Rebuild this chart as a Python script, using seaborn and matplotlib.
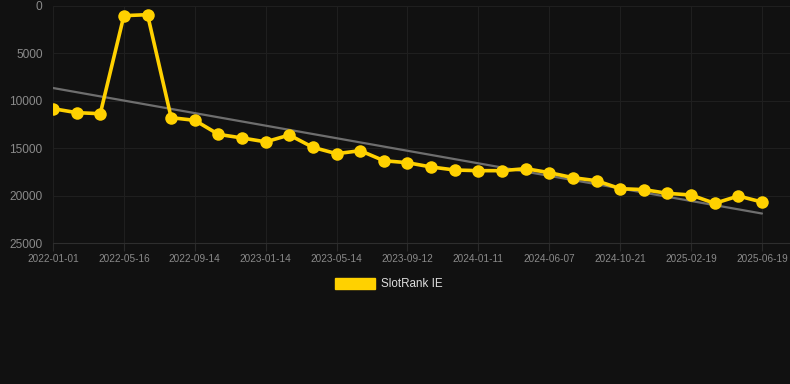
import matplotlib
matplotlib.use("Agg")
import matplotlib.pyplot as plt
import matplotlib.patches as mpatches
import seaborn as sns
import numpy as np
import pandas as pd

dates = [
    "2022-01-01", "2022-02-15", "2022-03-31", "2022-05-16", "2022-06-26", "2022-08-05",
    "2022-09-14", "2022-10-25", "2022-12-04", "2023-01-14", "2023-02-23", "2023-04-04",
    "2023-05-14", "2023-06-24", "2023-08-03", "2023-09-12", "2023-10-23", "2023-12-02",
    "2024-01-11", "2024-02-29", "2024-04-19", "2024-06-07", "2024-07-22", "2024-09-06",
    "2024-10-21", "2024-12-01", "2025-01-10", "2025-02-19", "2025-04-01", "2025-05-10",
    "2025-06-19",
]
ranks = [
    10830, 11250, 11360, 1020, 915, 11780,
    12060, 13540, 13920, 14330, 13610, 14910,
    15580, 15260, 16320, 16530, 16980, 17300,
    17370, 17370, 17160, 17580, 18110, 18430,
    19270, 19370, 19760, 19940, 20820, 20040,
    20680,
]
series_name = "SlotRank IE"
y_ticks = [0, 5000, 10000, 15000, 20000, 25000]

df = pd.DataFrame({"idx": np.arange(len(dates)), "date": dates, "rank": ranks})

bg = "#111111"
yellow = "#FFD100"
sns.set_theme(style="dark")
plt.rcParams["font.family"] = ["Liberation Sans", "DejaVu Sans"]

W, H = 790, 384
fig = plt.figure(figsize=(W / 100, H / 100), dpi=100, facecolor=bg)
ax = fig.add_axes([53 / W, (H - 243) / H, (790 - 53) / W, (243 - 6) / H])
ax.set_facecolor(bg)

sns.regplot(data=df, x="idx", y="rank", ax=ax, scatter=False, ci=None,
            line_kws={"color": "#6e6e6e", "lw": 1.6, "zorder": 2})
sns.lineplot(data=df, x="idx", y="rank", ax=ax, color=yellow, lw=2.6,
             marker="o", markersize=9, markeredgewidth=0, zorder=3)

ax.set_xlim(0, 30 + 28 / 23.63)
ax.set_ylim(25000, 0)
ax.set_yticks(y_ticks)
ax.set_yticklabels([str(v) for v in y_ticks])
tick_idx = list(range(0, len(dates), 3))
ax.set_xticks(tick_idx)
ax.set_xticklabels([dates[i] for i in tick_idx])

ax.grid(True, color="#1f1f1f", lw=0.8)
for s in ["top", "right", "left"]:
    ax.spines[s].set_visible(False)
ax.spines["bottom"].set_color("#2e2e2e")
ax.spines["bottom"].set_linewidth(0.8)
ax.tick_params(axis="y", colors="#8a8a8a", labelsize=8.6, length=0, pad=7.5)
ax.tick_params(axis="x", colors="#2a2a2a", labelcolor="#8a8a8a", labelsize=7.2,
               length=6, width=0.8, pad=2, bottom=True)
ax.set_xlabel("")
ax.set_ylabel("")

handle = mpatches.Patch(facecolor=yellow, edgecolor=yellow, label=series_name)
leg = fig.legend(handles=[handle], loc="center", bbox_to_anchor=(389 / W, 1 - 284 / H),
                 frameon=False, fontsize=8.4, handlelength=3.4, handleheight=1.1,
                 handletextpad=0.5, labelcolor="#dddddd")

fig.savefig("out.png", dpi=100, facecolor=bg)
